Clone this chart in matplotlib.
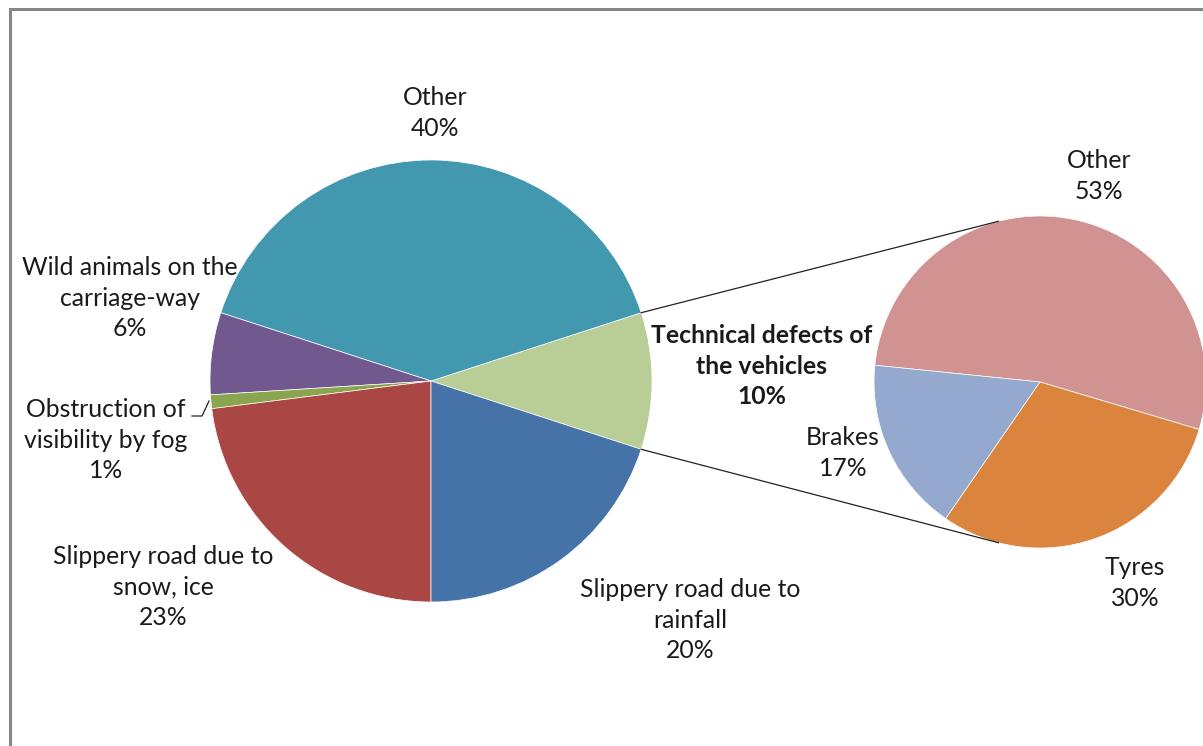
import matplotlib
matplotlib.use('Agg')
import matplotlib.pyplot as plt
from matplotlib.patches import Rectangle
import numpy as np

# main pie (share of accidents, %), listed counter-clockwise from the right
main_labels = ['Technical defects of\nthe vehicles', 'Other',
               'Wild animals on the\ncarriage-way', 'Obstruction of\nvisibility by fog',
               'Slippery road due to\nsnow, ice', 'Slippery road due to\nrainfall']
main_values = [10, 40, 6, 1, 23, 20]
main_colors = ['#B9CD96', '#4198AF', '#71588F', '#89A54E', '#AA4643', '#4572A7']

# breakdown of the technical defects
sub_labels = ['Other', 'Brakes', 'Tyres']
sub_values = [53, 17, 30]
sub_colors = ['#D09392', '#95A9CF', '#DB843D']

W, H = 1203, 746
fig = plt.figure(figsize=(W / 100, H / 100), dpi=100)
ax = fig.add_axes([0, 0, 1, 1])

c1, r1 = (431, H - 381), 221
c2, r2 = (1040, H - 382), 166

w1, _ = ax.pie(main_values, colors=main_colors, startangle=-18, counterclock=True,
               center=c1, radius=r1, wedgeprops=dict(edgecolor='white', linewidth=0.5))
w2, _ = ax.pie(sub_values, colors=sub_colors, startangle=-16.6, counterclock=True,
               center=c2, radius=r2, wedgeprops=dict(edgecolor='white', linewidth=0.5))

# connector lines from the technical slice to the second pie
for ang1, ang2 in [(w1[0].theta2, 104.5), (w1[0].theta1, -104.5)]:
    a1, a2 = np.radians(ang1), np.radians(ang2)
    ax.plot([c1[0] + r1 * np.cos(a1), c2[0] + r2 * np.cos(a2)],
            [c1[1] + r1 * np.sin(a1), c2[1] + r2 * np.sin(a2)],
            color='#222222', lw=0.9)

ax.set_xlim(0, W)
ax.set_ylim(0, H)
ax.set_aspect('auto')
ax.axis('off')

# chart frame
ax.add_patch(Rectangle((10, -50), W + 100, H - 9 + 50, fill=False,
                       edgecolor='#868686', lw=2.2, clip_on=False))

font = dict(family='Lato', fontsize=17.8, color='#1a1a1a', ha='center', va='center',
            linespacing=1.42)

# label positions in pixels (x, y from top)
main_pos = [(762, 366), (435, 113), (130, 298), (106, 440), (163, 587), (690, 620)]
for lab, val, (x, y) in zip(main_labels, main_values, main_pos):
    kw = dict(font)
    if lab.startswith('Technical'):
        kw['fontweight'] = 'bold'
    ax.text(x, H - y, f'{lab}\n{val}%', **kw)

sub_pos = [(1099, 176), (843, 453), (1135, 583)]
for lab, val, (x, y) in zip(sub_labels, sub_values, sub_pos):
    ax.text(x, H - y, f'{lab}\n{val}%', **font)

# leader line for the fog label
ax.plot([192, 202, 209], [H - 416, H - 416, H - 401], color='#222222', lw=0.9)

fig.savefig('out.png', dpi=100, facecolor='white')
